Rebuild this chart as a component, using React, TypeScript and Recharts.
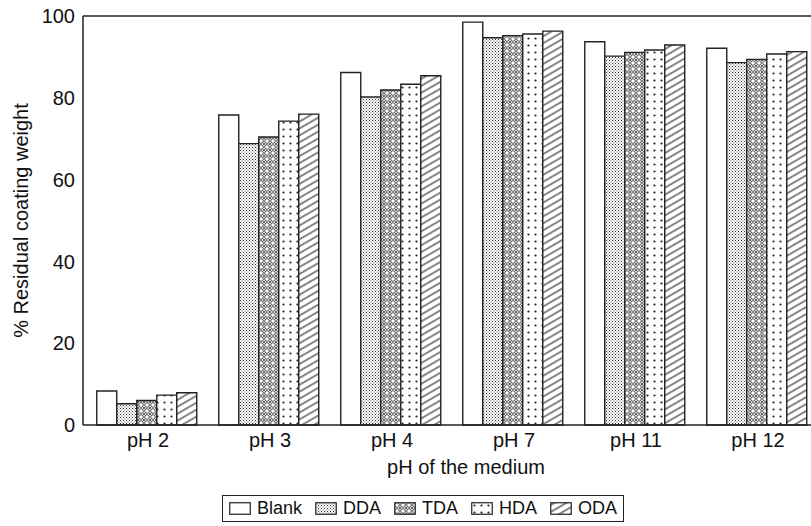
import { BarChart, Bar, XAxis, YAxis, ReferenceLine, Legend } from "recharts"

// values
const categories = ["pH 2", "pH 3", "pH 4", "pH 7", "pH 11", "pH 12"]
const blank = [8.3, 75.8, 86.2, 98.5, 93.7, 92.1]
const dda = [5.2, 68.8, 80.2, 94.7, 90.2, 88.6]
const tda = [6.0, 70.4, 81.9, 95.2, 91.1, 89.4]
const hda = [7.3, 74.3, 83.3, 95.6, 91.7, 90.7]
const oda = [7.9, 76.0, 85.4, 96.3, 92.9, 91.3]
const yTicks = [0, 20, 40, 60, 80, 100]

const series = [
  { key: "Blank", values: blank, fill: "#ffffff" },
  { key: "DDA", values: dda, fill: "url(#pDDA)" },
  { key: "TDA", values: tda, fill: "url(#pTDA)" },
  { key: "HDA", values: hda, fill: "url(#pHDA)" },
  { key: "ODA", values: oda, fill: "url(#pODA)" },
]

const data = categories.map((c, i) => {
  const row: Record<string, string | number> = { name: c }
  series.forEach((s) => (row[s.key] = s.values[i]))
  return row
})

const ink = "#222"
const font = "'Liberation Sans', Arial, Helvetica, sans-serif"

function Patterns({ suffix = "" }: { suffix?: string }) {
  return (
    <defs>
      <pattern id={"pDDA" + suffix} width="3" height="3" patternUnits="userSpaceOnUse">
        <rect width="3" height="3" fill="#fff" />
        <rect x="0" y="0" width="1" height="1" fill="#333" />
        <rect x="1.5" y="1.5" width="1" height="1" fill="#555" />
      </pattern>
      <pattern id={"pTDA" + suffix} width="6" height="6" patternUnits="userSpaceOnUse">
        <rect width="6" height="6" fill="#fff" />
        <circle cx="3" cy="3" r="2.3" fill="none" stroke="#444" strokeWidth="1" />
        <circle cx="0" cy="0" r="1" fill="#333" />
        <circle cx="6" cy="0" r="1" fill="#333" />
        <circle cx="0" cy="6" r="1" fill="#333" />
        <circle cx="6" cy="6" r="1" fill="#333" />
      </pattern>
      <pattern id={"pHDA" + suffix} width="7" height="7" patternUnits="userSpaceOnUse">
        <rect width="7" height="7" fill="#fff" />
        <circle cx="3.5" cy="3.5" r="1.1" fill="#222" />
      </pattern>
      <pattern
        id={"pODA" + suffix}
        width="6"
        height="6"
        patternUnits="userSpaceOnUse"
        patternTransform="rotate(-30)"
      >
        <rect width="6" height="6" fill="#fff" />
        <line x1="0" y1="3" x2="6" y2="3" stroke="#222" strokeWidth="1.1" />
      </pattern>
    </defs>
  )
}

function LegendBox() {
  return (
    <div style={{ height: 27, fontFamily: font }}>
      <div
        style={{
          marginLeft: 222,
          display: "inline-flex",
          alignItems: "center",
          height: 25,
          border: `1px solid ${ink}`,
          padding: "0 6px",
          fontSize: 18,
          color: "#111",
        }}
      >
        {series.map((s, i) => (
          <span key={s.key} style={{ display: "inline-flex", alignItems: "center", marginLeft: i ? 13 : 0 }}>
            <svg width="22" height="13" style={{ marginRight: 6 }}>
              <Patterns suffix="L" />
              <rect
                x="0.75"
                y="0.75"
                width="20.5"
                height="11.5"
                fill={s.fill.replace(")", "L)")}
                stroke={ink}
                strokeWidth="1.2"
              />
            </svg>
            {s.key}
          </span>
        ))}
      </div>
    </div>
  )
}

export default function App() {
  return (
    <div style={{ position: "absolute", left: 0, top: 0, width: 811, height: 526, overflow: "hidden", background: "#fff" }}>
      <BarChart
        width={820}
        height={526}
        data={data}
        margin={{ top: 16, right: 1, left: 0, bottom: 4 }}
        barCategoryGap="8%"
        barGap={0}
      >
        <Patterns />
        <XAxis
          dataKey="name"
          padding={{ left: 4, right: 0 }}
          height={70}
          tickLine={false}
          axisLine={{ stroke: ink, strokeWidth: 1.5 }}
          tick={{ fill: "#111", fontSize: 20, fontFamily: font }}
          label={{
            value: "pH of the medium",
            position: "insideBottom",
            offset: 21,
            dx: 15,
            fill: "#111",
            fontSize: 20,
            fontFamily: font,
          }}
        />
        <YAxis
          width={83}
          domain={[0, 100]}
          ticks={yTicks}
          tickLine={false}
          axisLine={{ stroke: ink, strokeWidth: 1.5 }}
          tick={{ fill: "#111", fontSize: 20, fontFamily: font }}
          label={{
            value: "% Residual coating weight",
            angle: -90,
            position: "center",
            dx: -21,
            fill: "#111",
            fontSize: 20,
            fontFamily: font,
          }}
        />
        <ReferenceLine y={100} stroke={ink} strokeWidth={1.5} />
        {series.map((s) => (
          <Bar
            key={s.key}
            dataKey={s.key}
            fill={s.fill}
            stroke={ink}
            strokeWidth={1.4}
            isAnimationActive={false}
          />
        ))}
        <Legend verticalAlign="bottom" content={() => <LegendBox />} />
      </BarChart>
    </div>
  )
}
